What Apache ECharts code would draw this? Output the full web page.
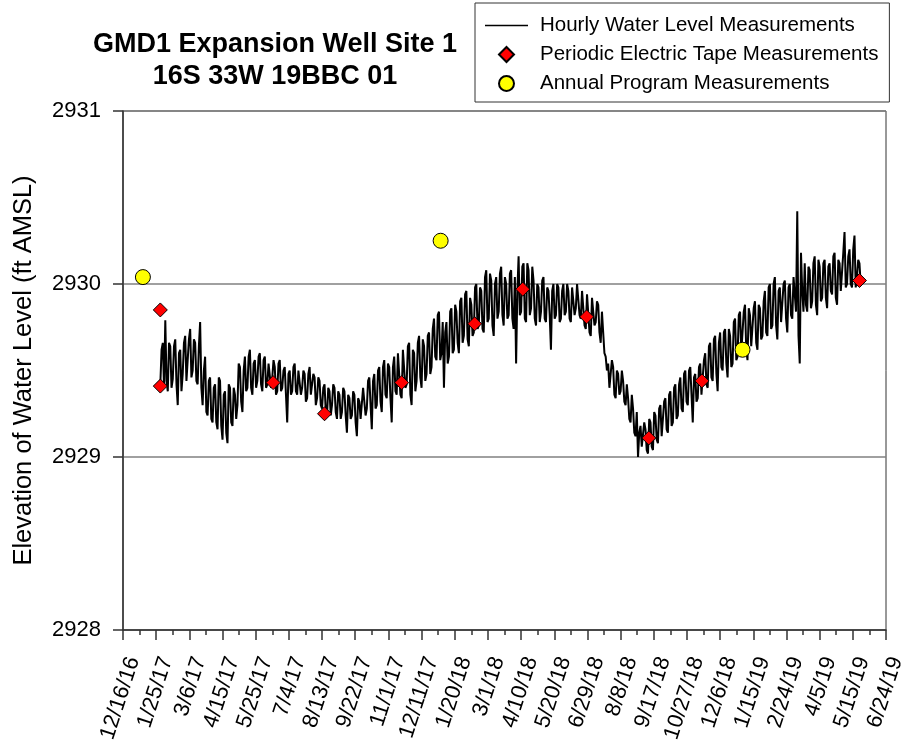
<!DOCTYPE html>
<html>
<head>
<meta charset="utf-8">
<script src="https://cdn.jsdelivr.net/npm/echarts@6/dist/echarts.min.js"></script>
<style>
  html, body { margin: 0; padding: 0; background: #fff; }
  #chart { width: 901px; height: 742px; }
</style>
</head>
<body>
<div id="chart"></div>
<script>
// x axis runs in days counted from 12/16/16, one labelled tick every 40 days
const startDate = '12/16/16';
const endDay = 920;
const tickDays = 40;

// hourly record, hundredths of a foot above 2929.
// hourlyLevelA is sampled every 3 days from day 45, hourlyLevelB sits
// half way between those samples
const hourlyStartDay = 45;
const hourlyStepDays = 3;
const hourlyLevelA = [
  42, 66, 79, 38, 64, 45, 68, 30, 62, 48, 70, 44, 74, 50, 66, 42, 78,
  30, 58, 24, 46, 20, 42, 16, 44, 10, 38, 8, 40, 18, 36,
  30, 52, 26, 58, 40, 62, 36, 56, 44, 60, 38, 58, 42, 55, 46,
  52, 38, 56, 40, 52, 20, 50, 38, 54, 36, 50, 40, 48, 34, 52, 36, 46, 34, 44,
  28, 42, 24, 38, 30, 40, 22, 36, 26, 38, 14, 34, 24, 36, 12, 32,
  22, 40, 28, 46, 16, 48, 30, 52, 26, 56, 34, 52, 20, 58, 36, 60,
  34, 62, 42, 66, 30, 60, 44, 70, 40, 64, 48, 72, 52,
  80, 56, 84, 60, 40, 78, 58, 86, 62, 84,
  60, 92, 70, 96, 64, 88, 72, 100, 76,
  96, 72, 108, 80, 102, 70, 104, 84, 110, 76, 100, 82,
  108, 74, 54, 116, 84, 112, 78, 108, 86,
  102, 76, 98, 84, 104, 78, 96, 62, 100, 82, 98, 80, 100, 84, 96, 78, 98, 86, 100,
  80, 96, 74, 94, 70, 92, 78, 88, 66, 72, 58,
  54, 40, 52, 34, 48, 38, 44, 30,
  34, 20, 28, 12, 0, 18, 6, 16,
  2, 20, 4, 24, 8, 30, 12, 34, 14, 38, 20, 42, 24,
  46, 26, 50, 30, 52, 20, 48, 34, 54, 36,
  60, 40, 66, 44, 70, 38, 72, 50, 74, 46, 70,
  54, 80, 58, 84, 60, 88, 56, 82, 64, 90, 62, 86, 70,
  96, 70, 100, 76, 104, 68, 98, 78, 102, 72, 100, 80, 104,
  142, 54, 96,
  112, 84, 108, 90, 116, 82, 110, 92, 114, 86, 112, 94, 118, 88, 112,
  96, 130, 100, 120, 98, 128, 104, 112
];
const hourlyLevelB = [
  62, 40, 44, 66, 40, 64, 42, 60, 38, 66, 44, 68, 46, 68, 44, 64, 40,
  50, 26, 44, 22, 40, 20, 46, 18, 36, 14, 42, 20, 40, 22,
  54, 32, 50, 38, 58, 40, 54, 40, 58, 42, 56, 40, 54, 40, 56,
  36, 54, 38, 50, 36, 48, 36, 52, 38, 50, 36, 50, 32, 48, 36, 48, 30, 46, 30,
  40, 26, 40, 24, 42, 26, 38, 22, 40, 24, 36, 22, 38, 20, 34, 22,
  40, 24, 44, 30, 44, 28, 50, 32, 52, 36, 54, 34, 52, 38, 60, 36,
  62, 40, 64, 36, 62, 38, 66, 46, 68, 44, 70, 48, 74,
  58, 82, 56, 78, 72, 54, 84, 60, 88, 66,
  90, 66, 94, 68, 92, 70, 98, 74, 98,
  74, 104, 78, 106, 76, 100, 80, 106, 82, 104, 80, 106,
  80, 104, 96, 82, 110, 80, 112, 82, 110,
  80, 100, 78, 102, 80, 98, 82, 96, 80, 100, 78, 96, 82, 100, 80, 98, 82, 100, 82,
  96, 76, 94, 72, 92, 76, 90, 72, 84, 60, 50,
  40, 56, 36, 50, 36, 50, 32, 42,
  22, 36, 14, 26, 14, 6, 20, 4,
  22, 6, 26, 10, 28, 12, 32, 16, 36, 18, 40, 22, 42,
  28, 48, 32, 50, 36, 46, 32, 52, 36, 56,
  42, 64, 46, 68, 48, 66, 52, 72, 54, 74, 52,
  78, 56, 82, 60, 84, 62, 86, 64, 86, 66, 88, 68, 90,
  72, 98, 74, 100, 76, 96, 78, 100, 80, 98, 82, 104, 84,
  70, 118, 84,
  88, 110, 86, 112, 88, 114, 90, 112, 92, 110, 96, 116, 92, 114, 96,
  118, 98, 116, 100, 120, 98, 114, 100
];

const tapeDates = ['1/30/17', '1/30/17', '6/15/17', '8/16/17', '11/17/17', '2/13/18',
  '4/12/18', '6/28/18', '9/11/18', '11/14/18', '5/23/19'];
const tapeLevels = [2929.85, 2929.41, 2929.43, 2929.25, 2929.43, 2929.77,
  2929.97, 2929.81, 2929.11, 2929.44, 2930.02];

const annualDates = ['1/9/17', '1/3/18', '1/2/19'];
const annualLevels = [2930.04, 2930.25, 2929.62];

const FONT = '"Liberation Sans", Arial, sans-serif';
const DAY = 86400000;

function toUTC(s) {
  const p = s.split('/').map(Number);
  return Date.UTC(2000 + p[2], p[0] - 1, p[1]);
}
const t0 = toUTC(startDate);
function dayOf(s) { return Math.round((toUTC(s) - t0) / DAY); }
function fmtDay(d) {
  const dt = new Date(t0 + d * DAY);
  return (dt.getUTCMonth() + 1) + '/' + dt.getUTCDate() + '/' + String(dt.getUTCFullYear()).slice(2);
}

const hourly = [];
hourlyLevelA.forEach((v, i) => {
  const d = hourlyStartDay + i * hourlyStepDays;
  hourly.push([d, 2929 + v / 100]);
  hourly.push([d + hourlyStepDays / 2, 2929 + hourlyLevelB[i] / 100]);
});
const tape = tapeDates.map((d, i) => [dayOf(d), tapeLevels[i]]);
const annual = annualDates.map((d, i) => [dayOf(d), annualLevels[i]]);

const chart = echarts.init(document.getElementById('chart'));
chart.setOption({
  animation: false,
  backgroundColor: '#fff',
  textStyle: { fontFamily: FONT },
  title: {
    text: 'GMD1 Expansion Well Site 1\n16S 33W 19BBC 01',
    left: 270,
    top: 24,
    textAlign: 'center',
    textStyle: { fontFamily: FONT, fontSize: 27, fontWeight: 'bold', color: '#000', lineHeight: 32 }
  },
  legend: {
    orient: 'vertical',
    left: 475,
    top: 3,
    padding: [12, 11, 8, 10],
    itemWidth: 43,
    itemHeight: 15,
    itemGap: 8,
    borderColor: '#333',
    borderWidth: 1,
    textStyle: { fontFamily: FONT, fontSize: 20.5, color: '#000', padding: [0, 0, 0, 7] },
    data: [
      { name: 'Hourly Water Level Measurements', icon: 'path://M0,0H43V1.3H0Z' },
      { name: 'Periodic Electric Tape Measurements', icon: 'path://M0,7.5L7.5,0L15,7.5L7.5,15Z' },
      { name: 'Annual Program Measurements', icon: 'circle' }
    ]
  },
  grid: {
    left: 123, right: 15, top: 111, bottom: 112,
    outerBoundsMode: 'none', containLabel: false,
    show: true, borderColor: '#333', borderWidth: 1
  },
  xAxis: {
    type: 'value',
    min: 0,
    max: endDay,
    interval: tickDays,
    axisLine: { show: true, lineStyle: { color: '#333', width: 1.5 } },
    axisTick: { show: true, length: 10, lineStyle: { color: '#333', width: 1.5 } },
    minorTick: { show: true, splitNumber: 2, length: 5, lineStyle: { color: '#333', width: 1.5 } },
    splitLine: { show: false },
    axisLabel: {
      rotate: 72, margin: 24, fontSize: 22, color: '#000', fontFamily: FONT,
      verticalAlign: 'top',
      showMinLabel: true, showMaxLabel: true,
      formatter: v => fmtDay(v)
    }
  },
  yAxis: {
    type: 'value',
    min: 2928,
    max: 2931,
    interval: 1,
    name: 'Elevation of Water Level (ft AMSL)',
    nameLocation: 'middle',
    nameGap: 86,
    nameTextStyle: { fontFamily: FONT, fontSize: 25.5, color: '#000' },
    axisLine: { show: true, lineStyle: { color: '#333', width: 1.5 } },
    axisTick: { show: true, length: 10, lineStyle: { color: '#333', width: 1.5 } },
    splitLine: { show: true, lineStyle: { color: '#808080', width: 1.5 } },
    axisLabel: { margin: 22, fontSize: 22, color: '#000', fontFamily: FONT, formatter: v => String(v) }
  },
  series: [
    {
      name: 'Hourly Water Level Measurements',
      type: 'line',
      data: hourly,
      symbol: 'none',
      lineStyle: { color: '#000', width: 2 },
      itemStyle: { color: '#000' },
      z: 2
    },
    {
      name: 'Periodic Electric Tape Measurements',
      type: 'scatter',
      data: tape,
      symbol: 'diamond',
      symbolSize: 14,
      itemStyle: { color: '#ff0000', borderColor: '#000', borderWidth: 1, opacity: 1 },
      z: 3
    },
    {
      name: 'Annual Program Measurements',
      type: 'scatter',
      data: annual,
      symbol: 'circle',
      symbolSize: 15,
      itemStyle: { color: '#ffff00', borderColor: '#000', borderWidth: 1, opacity: 1 },
      z: 3
    }
  ]
});
</script>
</body>
</html>
